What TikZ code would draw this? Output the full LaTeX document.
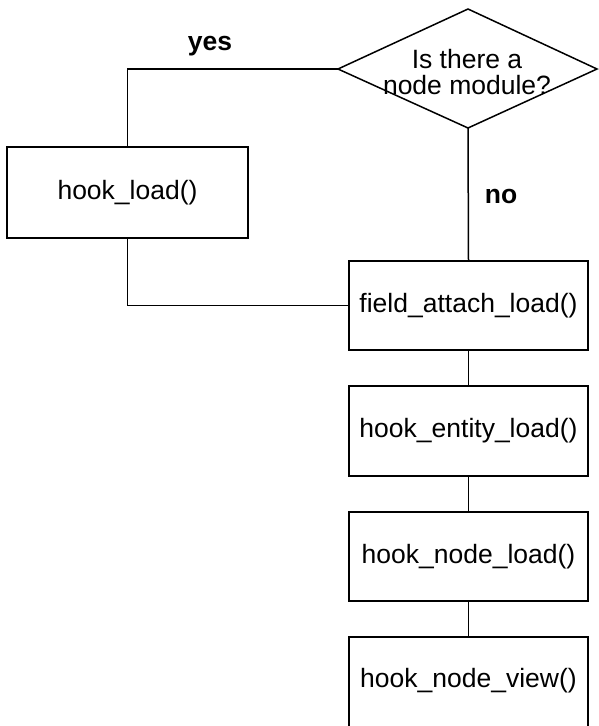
\documentclass[tikz,border=0pt]{standalone}
\usepackage{fontspec}
\setmainfont{Liberation Sans}
\begin{document}
\begin{tikzpicture}[x=1pt,y=-1pt,
  line width=1.5pt,
  every node/.style={font=\fontsize{26.5}{26}\selectfont},
  box/.style={draw,rectangle,inner sep=0pt,minimum width=240pt,minimum height=90pt,line width=1.5pt},
  lbl/.style={font=\fontsize{26.5}{26}\selectfont\bfseries},
  conn/.style={draw,line width=1.5pt}]
\useasboundingbox (0,0) rectangle (598,726);
% decision diamond
\coordinate (qt) at (468,9);
\coordinate (qr) at (597,69);
\coordinate (qb) at (468,128);
\coordinate (ql) at (338,69);
\draw (qt) -- (qr) -- (qb) -- (ql) -- cycle;
\node[align=center,inner sep=0pt] (q) at (467,72) {Is there a\\node module?};
% boxes
\node[box,minimum width=241pt,minimum height=91pt] (hl) at (127.5,192.5) {hook\_load()};
\node[box,minimum width=239pt,minimum height=89pt] (fa) at (468.5,305.5) {field\_attach\_load()};
\node[box,minimum width=239pt,minimum height=90pt] (en) at (468.5,431) {hook\_entity\_load()};
\node[box,minimum width=239pt,minimum height=89pt] (nl) at (468.5,556.5) {hook\_node\_load()};
\node[box,minimum width=239pt,minimum height=94pt] (nv) at (468.5,684) {};
\node (nvt) at (468.5,681) {hook\_node\_view()};
% labels
\node[lbl] (yes) at (210,46) {yes};
\node[lbl] (no) at (501,196) {no};
% connectors
\path[conn] (ql) -| (hl.north);
\path[conn] (qb) -- (fa.north);
\path[conn] (hl.south) |- (fa.west);
\path[conn] (fa) -- (en);
\path[conn] (en) -- (nl);
\path[conn] (nl) -- (nv);
\end{tikzpicture}
\end{document}
